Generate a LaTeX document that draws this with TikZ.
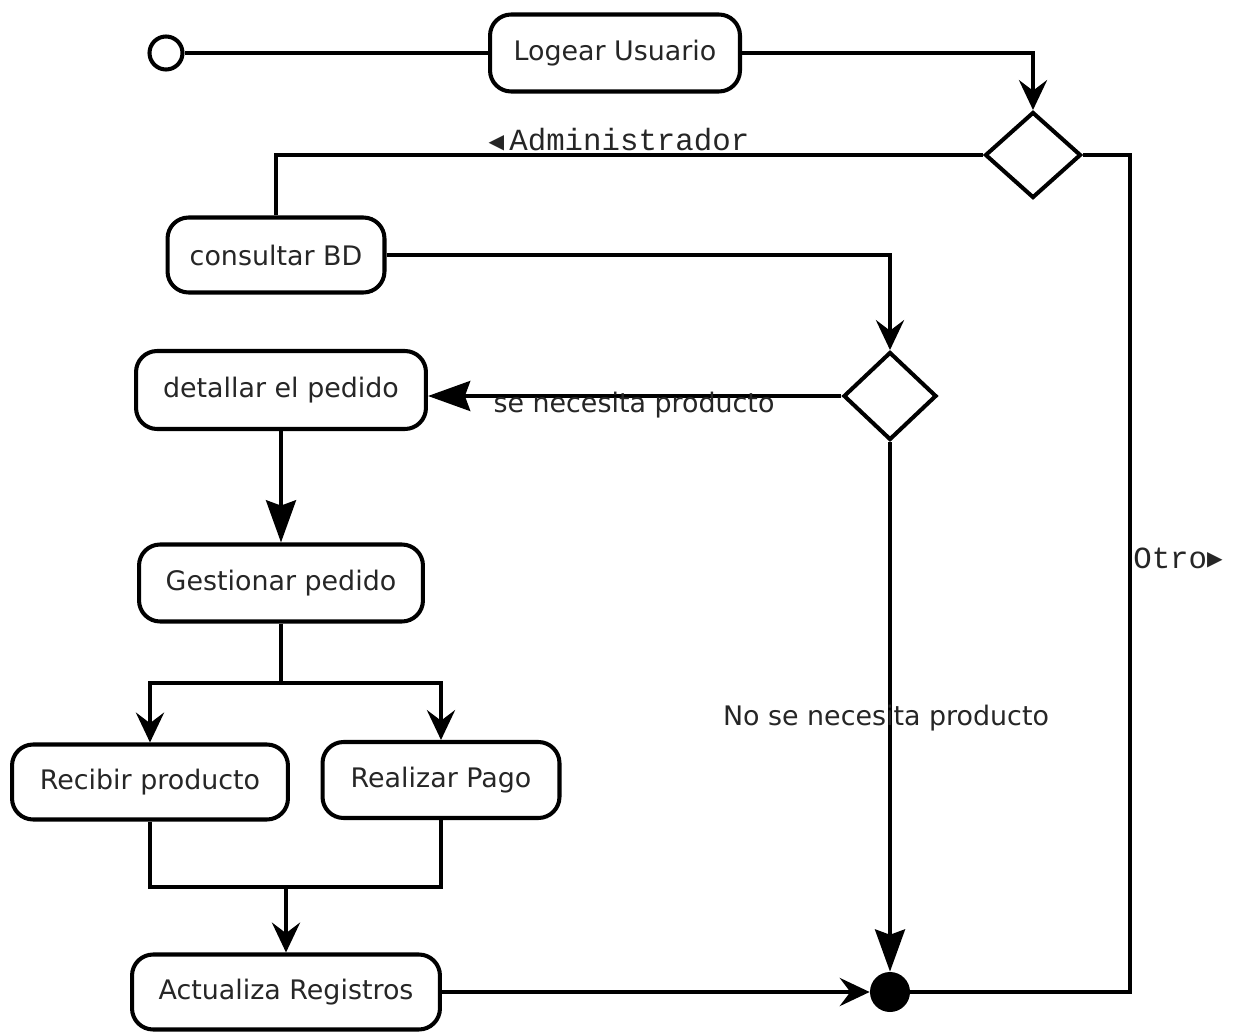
\documentclass[tikz,border=0pt]{standalone}
\usepackage{fontspec}
\setmainfont{DejaVu Sans}
\newfontfamily\guardfont{Liberation Mono}
\newfontfamily\symfont{DejaVu Sans}
\usetikzlibrary{shapes.geometric,arrows.meta}
\definecolor{ink}{HTML}{262626}
% small direction marks for guard labels
\newcommand{\dirmark}[1]{\raisebox{1.6pt}{\symfont\fontsize{11.5}{12}\selectfont #1}}

\begin{document}
\begin{tikzpicture}[x=0.02cm,y=-0.02cm,
  activity/.style={draw, line width=2.3pt, rounded corners=12pt, inner sep=0pt,
                   text=ink, font=\fontsize{15.3}{18}\selectfont},
  decision/.style={draw, diamond, line width=2.3pt, inner sep=0pt},
  flow/.style={line width=2.3pt},
  tipS/.style={-{Stealth[length=17pt,width=16pt,inset=6pt]}},
  tipL/.style={-{Stealth[length=24pt,width=17pt,inset=3pt]}},
  guard/.style={text=ink, inner sep=0pt, font=\fontsize{17.5}{20}\selectfont\guardfont},
  note/.style={text=ink, inner sep=0pt, font=\fontsize{15.3}{18}\selectfont}
]
\fill[white] (0,0) rectangle (1238,1034);
\useasboundingbox (0,0) rectangle (1238,1034);

% initial and final states
\node[draw, circle, line width=2.3pt, minimum size=0.66cm, inner sep=0pt] (start) at (166,53) {};
\node[fill, circle, minimum size=0.8cm, inner sep=0pt] (final) at (890,992) {};

% activities
\node[activity, minimum width=5.0cm,  minimum height=1.54cm] (logear)    at (615,53)  {Logear Usuario};
\node[activity, minimum width=4.34cm, minimum height=1.5cm]  (consultar) at (276,255) {consultar BD};
\node[activity, minimum width=5.8cm,  minimum height=1.56cm] (detallar)  at (281,390) {detallar el pedido};
\node[activity, minimum width=5.68cm, minimum height=1.54cm] (gestionar) at (281,583) {Gestionar pedido};
\node[activity, minimum width=5.52cm, minimum height=1.5cm]  (recibir)   at (150,782) {Recibir producto};
\node[activity, minimum width=4.74cm, minimum height=1.52cm] (realizar)  at (441,780) {Realizar Pago};
\node[activity, minimum width=6.16cm, minimum height=1.5cm]  (actualiza) at (286,992) {Actualiza Registros};

% decisions
\node[decision, minimum width=1.92cm, minimum height=1.72cm] (d1) at (1033,155) {};
\node[decision, minimum width=1.86cm, minimum height=1.76cm] (d2) at (890,396)  {};

% routing points
\coordinate (rt)   at (1130,155);
\coordinate (fork) at (281,683);
\coordinate (join) at (286,887);

% flows
\draw[flow] (start.east) -- (logear.west);
\draw[flow,tipS] (logear.east) -| (d1.north);
\draw[flow] (d1.west) -| (consultar.north);
\draw[flow] (d1.east) -- (rt) |- (final.east);
\draw[flow,tipS] (consultar.east) -| (d2.north);
\draw[flow,tipL] (d2.west) -- (detallar.east |- d2.west);
\draw[flow,tipL] (detallar.south) -- (gestionar.north);
\draw[flow] (gestionar.south) -- (fork);
\draw[flow,tipS] (fork) -| (recibir.north);
\draw[flow,tipS] (fork) -| (realizar.north);
\draw[flow] (recibir.south) |- (join) -| (realizar.south);
\draw[flow,tipS] (join) -- (actualiza.north);
\draw[flow,tipS] (actualiza.east) -- (final.west);
\draw[flow,tipL] (d2.south) -- (final.north);

% guards
\node[guard] (gadmin) at (619,140) {\dirmark{◀}\,Administrador};
\node[guard] (gotro)  at (1178,558) {Otro\dirmark{▶}};
\node[note]  (gsi)    at (634,405) {se necesita producto};
\node[note]  (gno)    at (886,718) {No se necesita producto};
\end{tikzpicture}
\end{document}
